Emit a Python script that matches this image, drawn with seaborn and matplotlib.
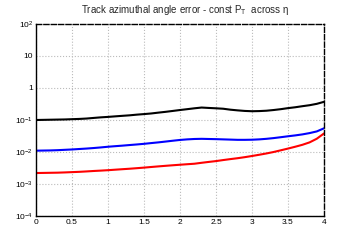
import numpy as np
import pandas as pd
import matplotlib
matplotlib.use("Agg")
import matplotlib.pyplot as plt
import matplotlib.ticker as mticker
import seaborn as sns

# eta bin centres and per-series angle errors
eta = [round(0.1 * i, 1) for i in range(41)]

err_black = [0.100, 0.101, 0.102, 0.103, 0.104, 0.106, 0.108, 0.111, 0.116, 0.121,
             0.125, 0.130, 0.135, 0.140, 0.147, 0.153, 0.160, 0.170, 0.180, 0.192,
             0.205, 0.218, 0.232, 0.245, 0.238, 0.232, 0.225, 0.210, 0.200, 0.192,
             0.188, 0.190, 0.195, 0.205, 0.218, 0.235, 0.250, 0.270, 0.290, 0.320,
             0.370]
err_blue = [0.0110, 0.0111, 0.0112, 0.0114, 0.0117, 0.0120, 0.0124, 0.0128, 0.0133, 0.0139,
            0.0146, 0.0152, 0.0158, 0.0165, 0.0172, 0.0180, 0.0190, 0.0200, 0.0212, 0.0225,
            0.0238, 0.0248, 0.0255, 0.0258, 0.0255, 0.0252, 0.0248, 0.0244, 0.0240, 0.0240,
            0.0242, 0.0248, 0.0258, 0.0272, 0.0290, 0.0310, 0.0330, 0.0355, 0.0390, 0.0440,
            0.0550]
err_red = [0.00220, 0.00222, 0.00224, 0.00226, 0.00230, 0.00235, 0.00240, 0.00247, 0.00255, 0.00262,
           0.00270, 0.00280, 0.00290, 0.00300, 0.00312, 0.00325, 0.00340, 0.00355, 0.00370, 0.00385,
           0.00400, 0.00415, 0.00430, 0.00460, 0.00490, 0.00520, 0.00560, 0.00600, 0.00640, 0.00690,
           0.00750, 0.00820, 0.00900, 0.0100, 0.0113, 0.0128, 0.0146, 0.0168, 0.0200, 0.0260,
           0.0380]

ytick_vals = [1e-4, 1e-3, 1e-2, 1e-1, 1, 10, 100]
ytick_labels = [r"$10^{-4}$", r"$10^{-3}$", r"$10^{-2}$", r"$10^{-1}$", "1", "10", r"$10^{2}$"]
xtick_vals = [0, 0.5, 1, 1.5, 2, 2.5, 3, 3.5, 4]
xtick_labels = ["0", "0.5", "1", "1.5", "2", "2.5", "3", "3.5", "4"]

df = pd.concat([
    pd.DataFrame({"eta": eta, "err": err_black, "series": "black"}),
    pd.DataFrame({"eta": eta, "err": err_blue, "series": "blue"}),
    pd.DataFrame({"eta": eta, "err": err_red, "series": "red"}),
])

sns.set_style("white")
plt.rcParams["font.family"] = ["Liberation Sans", "DejaVu Sans"]
plt.rcParams["mathtext.fontset"] = "custom"
plt.rcParams["mathtext.rm"] = "Liberation Sans"
plt.rcParams["mathtext.it"] = "Liberation Sans"

fig = plt.figure(figsize=(3.6, 2.4), dpi=100)
ax = fig.add_axes([0.1, 0.1, 0.8, 0.8])

sns.lineplot(data=df, x="eta", y="err", hue="series",
             palette={"black": "black", "blue": "blue", "red": "red"},
             linewidth=1.5, legend=False, ax=ax)

ax.set_yscale("log")
ax.set_xlim(0, 4)
ax.set_ylim(1e-4, 1e2)
ax.set_xticks(xtick_vals)
ax.set_xticklabels(xtick_labels)
ax.set_yticks(ytick_vals)
ax.set_yticklabels(ytick_labels)
ax.xaxis.set_minor_locator(mticker.MultipleLocator(0.1))
ax.yaxis.set_minor_locator(mticker.LogLocator(base=10, subs=np.arange(2, 10)))
ax.yaxis.set_minor_formatter(mticker.NullFormatter())
ax.tick_params(which="both", direction="in", top=False, right=False,
               labelsize=6, pad=2, colors="black")
ax.tick_params(which="major", length=6, width=0.8)
ax.tick_params(which="minor", length=3, width=0.8)
ax.set_xlabel("")
ax.set_ylabel("")

ax.grid(True, which="major", linestyle=":", color="#bbbbbb", linewidth=0.8)
for side in ["left", "bottom"]:
    ax.spines[side].set_color("black")
    ax.spines[side].set_linewidth(1.0)
for side in ["top", "right"]:
    ax.spines[side].set_color("black")
    ax.spines[side].set_linestyle("--")
    ax.spines[side].set_linewidth(1.0)

fig.text(0.515, 0.96, r"Track azimuthal angle error - const P$_{\mathrm{T}}$  across η",
         ha="center", va="center", fontsize=7)

fig.savefig("out.png", dpi=100, facecolor="white")
